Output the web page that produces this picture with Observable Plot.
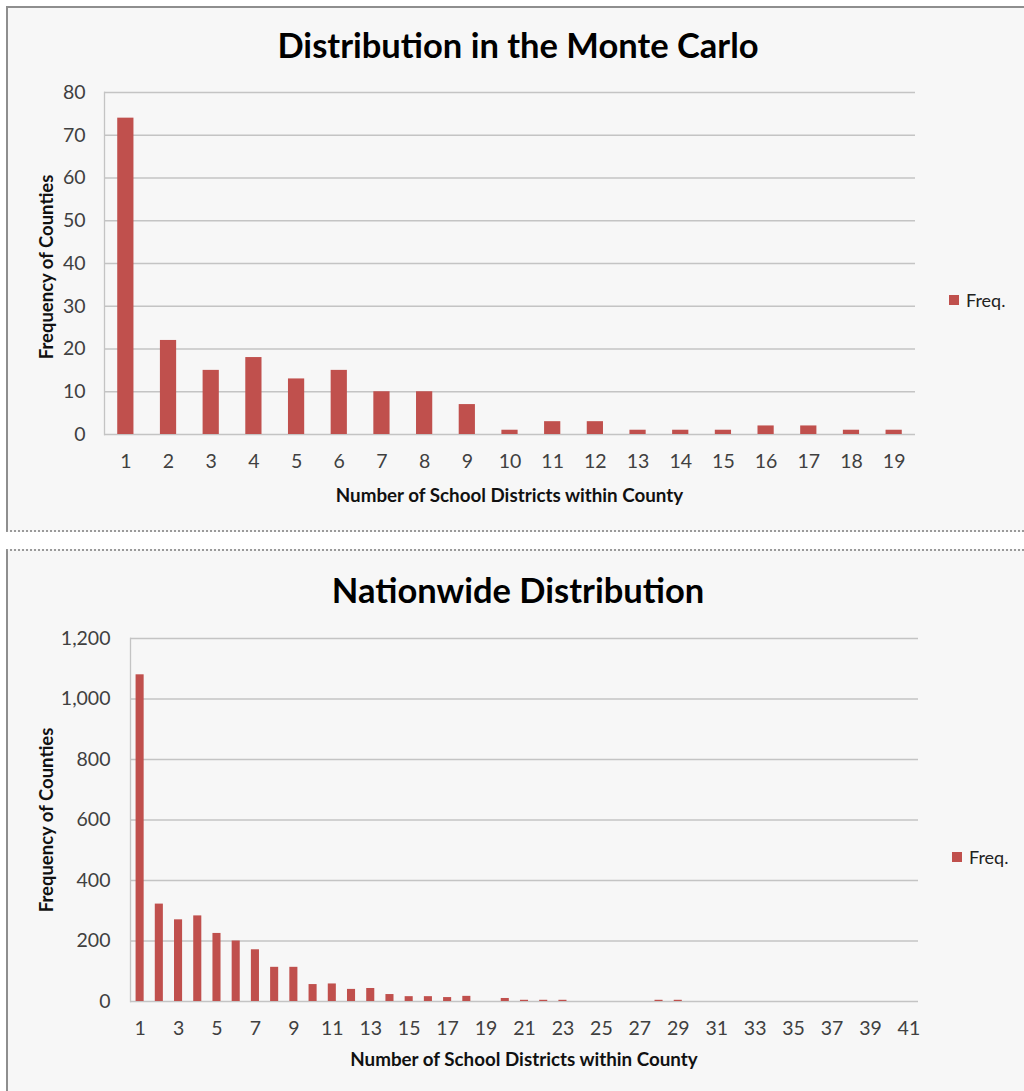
<!DOCTYPE html>
<html>
<head>
<meta charset="utf-8">
<script src="https://cdn.jsdelivr.net/npm/d3@7"></script>
<script src="https://cdn.jsdelivr.net/npm/@observablehq/plot@0.6"></script>
<style>
  html, body { margin: 0; padding: 0; background: #ffffff; }
  #page { position: relative; width: 1024px; height: 1091px; overflow: hidden; background: #ffffff; font-family: Lato, "Open Sans", sans-serif; }
  .panel { position: absolute; background: #f7f7f7; box-sizing: border-box; }
  #p1 { left: 6px; top: 6px; width: 1030px; height: 526px; border-left: 2px solid #8e8e8e; border-top: 2px solid #8e8e8e; border-bottom: 2px dotted #9a9a9a; }
  #p2 { left: 6px; top: 549px; width: 1030px; height: 560px; border-left: 2px solid #8e8e8e; border-top: 2px dotted #9a9a9a; }
  .title { position: absolute; left: 0; width: 1036px; text-align: center; font-weight: 700; font-size: 34.5px; color: #000; white-space: nowrap; line-height: 40px; }
  .xlab { position: absolute; text-align: center; font-weight: 700; font-size: 18.8px; color: #111; white-space: nowrap; line-height: 22px; }
  .ylab { position: absolute; font-weight: 700; font-size: 18.5px; color: #111; white-space: nowrap; line-height: 22px; transform: translate(-50%, -50%) rotate(-90deg); }
  .legend { position: absolute; font-size: 18px; color: #222; white-space: nowrap; display: flex; align-items: center; line-height: 22px; }
  .legend .sw { display: inline-block; width: 10px; height: 10px; background: #c0504d; margin-right: 7px; }
  .chart { position: absolute; left: 0; }
</style>
</head>
<body>
<div id="page">
  <div class="panel" id="p1"></div>
  <div class="panel" id="p2"></div>
  <div class="title" id="t1" style="top:25px">Distribution in the Monte Carlo</div>
  <div class="title" id="t2" style="top:570px">Nationwide Distribution</div>
  <div class="chart" id="c1" style="top:60px"></div>
  <div class="chart" id="c2" style="top:600px"></div>
  <div class="xlab" style="left:104px; width:811px; top:484px">Number of School Districts within County</div>
  <div class="xlab" style="left:130px; width:788px; top:1048px">Number of School Districts within County</div>
  <div class="ylab" style="left:46px; top:267px">Frequency of Counties</div>
  <div class="ylab" style="left:46px; top:820px">Frequency of Counties</div>
  <div class="legend" style="left:949px; top:289px"><span class="sw"></span>Freq.</div>
  <div class="legend" style="left:952px; top:846px"><span class="sw"></span>Freq.</div>
</div>
<script>
// Monte Carlo distribution (top chart)
const mcCategories = [1,2,3,4,5,6,7,8,9,10,11,12,13,14,15,16,17,18,19];
const mcFreq = [74,22,15,18,13,15,10,10,7,1,3,3,1,1,1,2,2,1,1];
const mcYTicks = [0,10,20,30,40,50,60,70,80];

// Nationwide distribution (bottom chart)
const nwCategories = [1,2,3,4,5,6,7,8,9,10,11,12,13,14,15,16,17,18,19,20,21,22,23,24,25,26,27,28,29,30,31,32,33,34,35,36,37,38,39,40,41];
const nwFreq = [1080,322,270,283,225,200,171,113,113,56,58,40,43,23,16,16,13,17,0,10,4,4,4,0,0,0,0,4,4,0,0,0,0,0,0,0,0,0,0,0,0];
const nwYTicks = [0,200,400,600,800,1000,1200];
const nwXTicks = [1,3,5,7,9,11,13,15,17,19,21,23,25,27,29,31,33,35,37,39,41];

const barColor = "#c0504d";
const gridColor = "#c4c4c4";
const tickColor = "#404040";

function makeChart(cats, vals, yTicks, xTicks, opts) {
  const data = cats.map((c, i) => ({cat: c, freq: vals[i]}));
  return Plot.plot({
    width: 1024,
    height: opts.height,
    marginLeft: opts.ml,
    marginRight: opts.mr,
    marginTop: opts.mt,
    marginBottom: opts.mb,
    style: {background: "transparent", fontFamily: "Lato, 'Open Sans', sans-serif", fontSize: "19.5px", color: tickColor, overflow: "visible"},
    x: {type: "band", domain: cats, paddingInner: opts.pad, paddingOuter: opts.pad / 2, align: 0.5, round: false, label: null},
    y: {domain: [0, yTicks[yTicks.length - 1]], label: null},
    marks: [
      Plot.ruleY(yTicks, {stroke: gridColor, strokeWidth: 1.3}),
      Plot.frame({anchor: "left", stroke: gridColor, strokeWidth: 1.3}),
      Plot.barY(data, {x: "cat", y: "freq", fill: barColor}),
      Plot.axisY({ticks: yTicks, tickSize: 0, tickPadding: opts.ypad, tickFormat: d3.format(","), label: null, fill: tickColor}),
      Plot.axisX({ticks: xTicks, tickSize: 0, tickPadding: opts.xpad, label: null, fill: tickColor})
    ]
  });
}

document.getElementById("c1").appendChild(
  makeChart(mcCategories, mcFreq, mcYTicks, mcCategories,
    {height: 470, ml: 104, mr: 109, mt: 32, mb: 96, pad: 0.62, ypad: 19, xpad: 20})
);
document.getElementById("c2").appendChild(
  makeChart(nwCategories, nwFreq, nwYTicks, nwXTicks,
    {height: 491, ml: 130, mr: 106, mt: 38, mb: 90, pad: 0.58, ypad: 20, xpad: 20})
);
</script>
</body>
</html>
